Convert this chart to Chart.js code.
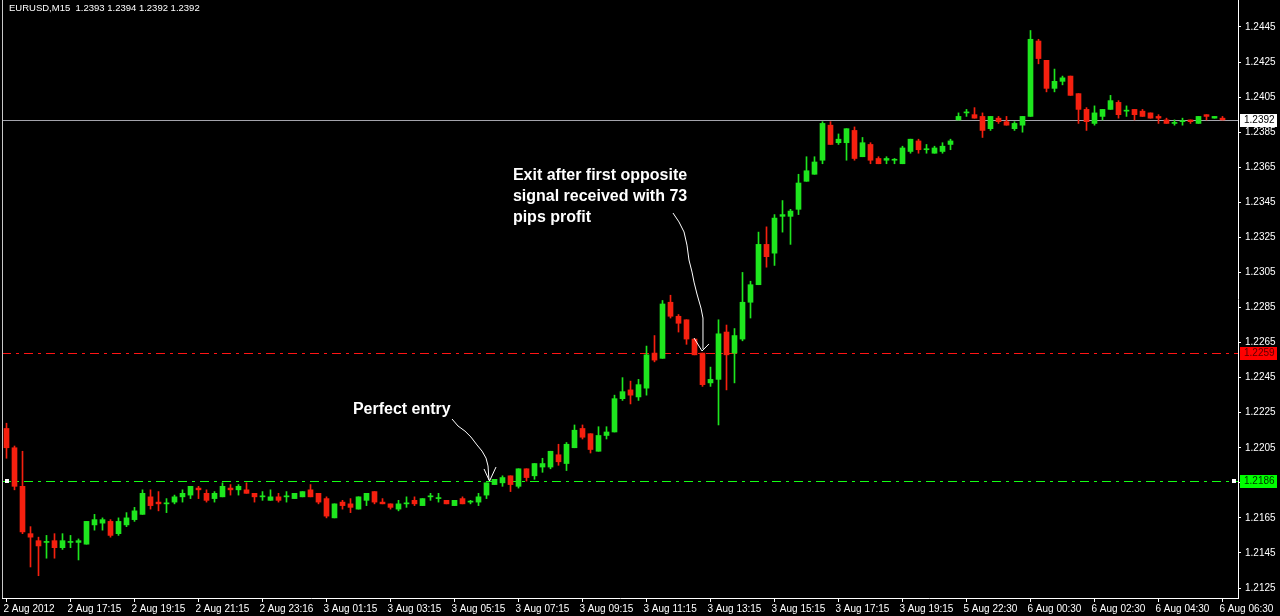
<!DOCTYPE html>
<html>
<head>
<meta charset="utf-8">
<title>EURUSD M15</title>
<script src="https://cdn.jsdelivr.net/npm/chart.js@4.4.1/dist/chart.umd.min.js"></script>
<style>
  html, body { margin: 0; padding: 0; background: #000; }
  #chart { display: block; }
</style>
</head>
<body>
<canvas id="chart" width="1280" height="616"></canvas>
<script>
// M15 bars, oldest first
const opens = [
  1.2216, 1.2205, 1.2183, 1.2156, 1.2152, 1.2151, 1.2152, 1.2148, 1.2151, 1.2151,
  1.2150, 1.2161, 1.2162, 1.2163, 1.2156, 1.2161, 1.2164, 1.2167, 1.2177, 1.2174,
  1.2173, 1.2174, 1.2177, 1.2178, 1.2182, 1.2179, 1.2176, 1.2177, 1.2182, 1.2181,
  1.2181, 1.2179, 1.2177, 1.2175, 1.2177, 1.2177, 1.2176, 1.2177, 1.2181, 1.2179,
  1.2176, 1.2165, 1.2174, 1.2173, 1.2170, 1.2175, 1.2180, 1.2174, 1.2173, 1.2170,
  1.2173, 1.2175, 1.2172, 1.2177, 1.2176, 1.2175, 1.2172, 1.2176, 1.2174, 1.2174,
  1.2178, 1.2184, 1.2185, 1.2189, 1.2183, 1.2193, 1.2189, 1.2194, 1.2194, 1.2201,
  1.2196, 1.2205, 1.2216, 1.2213, 1.2203, 1.2212, 1.2214, 1.2233, 1.2238, 1.2234,
  1.2239, 1.2259, 1.2256, 1.2288, 1.2280, 1.2278, 1.2267, 1.2259, 1.2242, 1.2244,
  1.2271, 1.2259, 1.2267, 1.2288, 1.2298, 1.2321, 1.2316, 1.2337, 1.2337, 1.2341,
  1.2357, 1.2361, 1.2369, 1.2389, 1.2379, 1.2379, 1.2386, 1.2371, 1.2378, 1.2370,
  1.2369, 1.2369, 1.2367, 1.2374, 1.2380, 1.2375, 1.2373, 1.2374, 1.2378, 1.2392,
  1.2396, 1.2395, 1.2394, 1.2387, 1.2393, 1.2391, 1.2387, 1.2389, 1.2394, 1.2437,
  1.2426, 1.2410, 1.2414, 1.2417, 1.2407, 1.2398, 1.2390, 1.2394, 1.2398, 1.2402,
  1.2397, 1.2398, 1.2397, 1.2396, 1.2394, 1.2392, 1.2390, 1.2391, 1.2392, 1.2390,
  1.2395, 1.2393, 1.2393
];
const highs = [
  1.2219, 1.2206, 1.2203, 1.2160, 1.2154, 1.2155, 1.2156, 1.2156, 1.2155, 1.2153,
  1.2163, 1.2167, 1.2165, 1.2164, 1.2165, 1.2168, 1.2171, 1.2181, 1.2181, 1.2180,
  1.2176, 1.2178, 1.2181, 1.2183, 1.2183, 1.2181, 1.2180, 1.2185, 1.2184, 1.2184,
  1.2185, 1.2179, 1.2180, 1.2181, 1.2179, 1.2180, 1.2179, 1.2180, 1.2184, 1.2179,
  1.2177, 1.2173, 1.2175, 1.2176, 1.2177, 1.2179, 1.2180, 1.2176, 1.2173, 1.2175,
  1.2177, 1.2177, 1.2176, 1.2179, 1.2179, 1.2175, 1.2175, 1.2177, 1.2175, 1.2179,
  1.2185, 1.2187, 1.2189, 1.2189, 1.2193, 1.2193, 1.2196, 1.2199, 1.2203, 1.2207,
  1.2208, 1.2218, 1.2218, 1.2213, 1.2217, 1.2217, 1.2235, 1.2245, 1.2243, 1.2244,
  1.2263, 1.2269, 1.2289, 1.2292, 1.2281, 1.2278, 1.2267, 1.2259, 1.2251, 1.2278,
  1.2275, 1.2273, 1.2305, 1.2300, 1.2328, 1.2331, 1.2338, 1.2346, 1.2341, 1.2361,
  1.2371, 1.2371, 1.2391, 1.2391, 1.2384, 1.2387, 1.2388, 1.2382, 1.2379, 1.2371,
  1.2371, 1.2370, 1.2377, 1.2381, 1.2381, 1.2378, 1.2377, 1.2379, 1.2381, 1.2396,
  1.2398, 1.2399, 1.2396, 1.2394, 1.2394, 1.2394, 1.2391, 1.2394, 1.2443, 1.2438,
  1.2426, 1.2421, 1.2417, 1.2417, 1.2407, 1.2399, 1.2400, 1.2398, 1.2406, 1.2403,
  1.2400, 1.2398, 1.2398, 1.2396, 1.2395, 1.2393, 1.2392, 1.2393, 1.2392, 1.2394,
  1.2395, 1.2394, 1.2394
];
const lows = [
  1.2199, 1.2181, 1.2156, 1.2137, 1.2132, 1.2142, 1.2142, 1.2147, 1.2148, 1.2141,
  1.2150, 1.2158, 1.2158, 1.2154, 1.2155, 1.2160, 1.2163, 1.2167, 1.2170, 1.2169,
  1.2168, 1.2173, 1.2174, 1.2176, 1.2176, 1.2174, 1.2174, 1.2177, 1.2178, 1.2178,
  1.2179, 1.2174, 1.2175, 1.2175, 1.2174, 1.2174, 1.2176, 1.2177, 1.2177, 1.2173,
  1.2165, 1.2165, 1.2170, 1.2168, 1.2170, 1.2172, 1.2173, 1.2173, 1.2170, 1.2169,
  1.2171, 1.2172, 1.2172, 1.2175, 1.2174, 1.2173, 1.2172, 1.2173, 1.2173, 1.2172,
  1.2176, 1.2184, 1.2183, 1.2180, 1.2182, 1.2186, 1.2187, 1.2191, 1.2193, 1.2195,
  1.2192, 1.2205, 1.2210, 1.2202, 1.2203, 1.2210, 1.2214, 1.2232, 1.2230, 1.2232,
  1.2235, 1.2254, 1.2256, 1.2279, 1.2271, 1.2264, 1.2258, 1.2240, 1.2240, 1.2218,
  1.2238, 1.2242, 1.2266, 1.2279, 1.2298, 1.2308, 1.2309, 1.2328, 1.2321, 1.2338,
  1.2357, 1.2361, 1.2367, 1.2378, 1.2378, 1.2369, 1.2369, 1.2371, 1.2367, 1.2367,
  1.2367, 1.2367, 1.2367, 1.2373, 1.2373, 1.2373, 1.2373, 1.2373, 1.2375, 1.2392,
  1.2394, 1.2393, 1.2382, 1.2386, 1.2390, 1.2389, 1.2386, 1.2385, 1.2394, 1.2424,
  1.2408, 1.2408, 1.2412, 1.2406, 1.2390, 1.2386, 1.2389, 1.2392, 1.2398, 1.2393,
  1.2394, 1.2392, 1.2394, 1.2393, 1.2390, 1.2390, 1.2389, 1.2389, 1.2390, 1.2390,
  1.2392, 1.2393, 1.2392
];
const closes = [
  1.2205, 1.2183, 1.2157, 1.2154, 1.2149, 1.2151, 1.2148, 1.2152, 1.2151, 1.2152,
  1.2163, 1.2164, 1.2164, 1.2155, 1.2163, 1.2165, 1.2169, 1.2179, 1.2172, 1.2173,
  1.2173, 1.2177, 1.2179, 1.2183, 1.2181, 1.2175, 1.2179, 1.2183, 1.2181, 1.2183,
  1.2179, 1.2177, 1.2177, 1.2177, 1.2175, 1.2177, 1.2179, 1.2180, 1.2177, 1.2174,
  1.2166, 1.2173, 1.2172, 1.2171, 1.2177, 1.2179, 1.2174, 1.2173, 1.2171, 1.2173,
  1.2173, 1.2173, 1.2176, 1.2177, 1.2176, 1.2173, 1.2175, 1.2173, 1.2174, 1.2177,
  1.2185, 1.2187, 1.2188, 1.2184, 1.2193, 1.2188, 1.2196, 1.2196, 1.2203, 1.2197,
  1.2207, 1.2215, 1.2211, 1.2204, 1.2212, 1.2214, 1.2233, 1.2237, 1.2235, 1.2241,
  1.2258, 1.2255, 1.2287, 1.2280, 1.2276, 1.2267, 1.2258, 1.2241, 1.2244, 1.2270,
  1.2258, 1.2269, 1.2288, 1.2298, 1.2321, 1.2314, 1.2336, 1.2338, 1.2340, 1.2356,
  1.2363, 1.2368, 1.2390, 1.2378, 1.2381, 1.2387, 1.2370, 1.2379, 1.2369, 1.2367,
  1.2370, 1.2369, 1.2376, 1.2381, 1.2375, 1.2375, 1.2376, 1.2377, 1.2380, 1.2394,
  1.2396, 1.2393, 1.2386, 1.2394, 1.2391, 1.2389, 1.2390, 1.2394, 1.2438, 1.2427,
  1.2410, 1.2414, 1.2416, 1.2406, 1.2398, 1.2391, 1.2396, 1.2398, 1.2403, 1.2395,
  1.2397, 1.2395, 1.2394, 1.2393, 1.2393, 1.2390, 1.2390, 1.2391, 1.2391, 1.2394,
  1.2394, 1.2394, 1.2392
];

// time axis: one label every 8 bars
const timeLabels = [
  '2 Aug 2012', '2 Aug 17:15', '2 Aug 19:15', '2 Aug 21:15', '2 Aug 23:16',
  '3 Aug 01:15', '3 Aug 03:15', '3 Aug 05:15', '3 Aug 07:15', '3 Aug 09:15',
  '3 Aug 11:15', '3 Aug 13:15', '3 Aug 15:15', '3 Aug 17:15', '3 Aug 19:15',
  '5 Aug 22:30', '6 Aug 00:30', '6 Aug 02:30', '6 Aug 04:30', '6 Aug 06:30'
];
const barsPerLabel = 8;

const priceTicks = [
  1.2125, 1.2145, 1.2165, 1.2185, 1.2205, 1.2225, 1.2245, 1.2265, 1.2285,
  1.2305, 1.2325, 1.2345, 1.2365, 1.2385, 1.2405, 1.2425, 1.2445
];

// horizontal levels
const bidPrice = 1.2392;
const exitLevel = 1.2259;
const entryLevel = 1.2186;

const symbolInfo = 'EURUSD,M15  1.2393 1.2394 1.2392 1.2392';

// notes, anchored at [bar index, price]
const entryNote = ['Perfect entry'];
const entryNoteAt = [43.3, 1.22265];
const exitNote = ['Exit after first opposite', 'signal received with 73', 'pips profit'];
const exitNoteAt = [63.3, 1.23605];

const entryArrow = [
  [55.69, 1.22214], [56.44, 1.22174], [57.31, 1.22145], [58.06, 1.22111], [58.81, 1.22066],
  [59.44, 1.22031], [59.94, 1.21991], [60.19, 1.21946], [60.31, 1.21866]
];
const entryHead = [[59.69, 1.21929], [60.38, 1.2186], [61.19, 1.2194]];
const exitArrow = [
  [83.31, 1.23389], [84.06, 1.23338], [84.69, 1.23281], [85.06, 1.23206], [85.31, 1.23121],
  [85.69, 1.23052], [85.94, 1.22995], [86.31, 1.22927], [86.81, 1.22847], [87.06, 1.2279],
  [87.06, 1.22613]
];
const exitHead = [[85.94, 1.22676], [86.94, 1.22602], [87.81, 1.22642]];

const upColor = '#1ee61e';
const downColor = '#f5200f';
const barColors = closes.map((c, i) => c >= opens[i] ? upColor : downColor);

const axisFont = "'Liberation Sans', Arial, sans-serif";
Chart.defaults.font.family = axisFont;
Chart.defaults.font.size = 10;
Chart.defaults.color = '#ffffff';

const overlay = {
  id: 'overlay',
  beforeDatasetsDraw(chart) {
    const {ctx, chartArea: a, scales: {y}} = chart;
    ctx.save();
    ctx.lineWidth = 1;

    // bid line
    let py = Math.round(y.getPixelForValue(bidPrice)) + 0.5;
    ctx.strokeStyle = '#a4a4ac';
    ctx.beginPath(); ctx.moveTo(a.left, py); ctx.lineTo(a.right, py); ctx.stroke();

    // exit / entry levels, dash-dot
    ctx.setLineDash([9, 5, 3, 5]);
    py = Math.round(y.getPixelForValue(exitLevel)) + 0.5;
    ctx.strokeStyle = '#ff1414';
    ctx.beginPath(); ctx.moveTo(a.left, py); ctx.lineTo(a.right, py); ctx.stroke();
    py = Math.round(y.getPixelForValue(entryLevel)) + 0.5;
    ctx.strokeStyle = '#14ff14';
    ctx.beginPath(); ctx.moveTo(a.left, py); ctx.lineTo(a.right, py); ctx.stroke();
    ctx.setLineDash([]);

    // selection handles on the entry line
    ctx.fillStyle = '#ffffff';
    ctx.fillRect(a.left + 3, py - 2.5, 4, 4);
    ctx.fillRect(a.right - 6, py - 2.5, 4, 4);
    ctx.restore();
  },
  afterDraw(chart) {
    const {ctx, chartArea: a, scales: {x, y}} = chart;
    ctx.save();

    // left frame
    ctx.strokeStyle = '#c8c8c8';
    ctx.beginPath(); ctx.moveTo(a.left + 0.5, 0); ctx.lineTo(a.left + 0.5, a.bottom); ctx.stroke();

    // price boxes on the axis
    const box = (v, bg, fg) => {
      const py = Math.round(y.getPixelForValue(v));
      ctx.fillStyle = bg;
      ctx.fillRect(a.right + 2, py - 6, 37, 13);
      ctx.fillStyle = fg;
      ctx.font = '10px ' + axisFont;
      ctx.textBaseline = 'middle';
      ctx.textAlign = 'left';
      ctx.fillText(v.toFixed(4), a.right + 6, py + 0.5);
    };
    box(bidPrice, '#ffffff', '#000000');
    box(exitLevel, '#ff0000', '#5a0000');
    box(entryLevel, '#00ff00', '#003000');

    // symbol line
    ctx.fillStyle = '#ffffff';
    ctx.font = '9.5px ' + axisFont;
    ctx.textBaseline = 'middle';
    ctx.fillText(symbolInfo, 9, 8);

    // notes
    ctx.font = "bold 16px 'Liberation Sans', Arial, sans-serif";
    const note = (lines, at) => {
      const px = x.getPixelForValue(at[0]);
      const py = y.getPixelForValue(at[1]);
      lines.forEach((t, k) => ctx.fillText(t, px, py + k * 21));
    };
    note(entryNote, entryNoteAt);
    note(exitNote, exitNoteAt);

    // hand-drawn arrows
    ctx.strokeStyle = '#ffffff';
    ctx.lineWidth = 1;
    const path = pts => {
      ctx.beginPath();
      pts.forEach((p, k) => {
        const px = x.getPixelForValue(p[0]);
        const py = y.getPixelForValue(p[1]);
        if (k === 0) ctx.moveTo(px, py); else ctx.lineTo(px, py);
      });
      ctx.stroke();
    };
    path(entryArrow); path(entryHead);
    path(exitArrow); path(exitHead);
    ctx.restore();
  }
};

new Chart(document.getElementById('chart'), {
  type: 'bar',
  data: {
    datasets: [
      {
        label: 'body',
        data: opens.map((o, i) => ({x: i, y: [o, closes[i]]})),
        backgroundColor: barColors,
        barThickness: 5,
        minBarLength: 1,
        grouped: false
      },
      {
        label: 'wick',
        data: lows.map((l, i) => ({x: i, y: [l, highs[i]]})),
        backgroundColor: barColors,
        barThickness: 1,
        minBarLength: 1,
        grouped: false
      }
    ]
  },
  options: {
    responsive: false,
    animation: false,
    events: [],
    layout: { padding: { left: 2, top: 0, right: 0, bottom: 0 }, autoPadding: false },
    plugins: { legend: { display: false }, tooltip: { enabled: false } },
    scales: {
      x: {
        type: 'linear',
        offset: false,
        min: -0.5625,
        max: 153.9375,
        bounds: 'data',
        grid: { display: true, drawOnChartArea: false, drawTicks: true, tickLength: 4, color: '#ffffff', offset: false },
        border: { color: '#ffffff', width: 1 },
        ticks: { color: '#ffffff', align: 'start', padding: 1, labelOffset: -3, maxRotation: 0, minRotation: 0, autoSkip: false,
          callback: (v) => timeLabels[Math.round(v / barsPerLabel)] },
        afterBuildTicks: s => { s.ticks = timeLabels.map((t, k) => ({ value: k * barsPerLabel })); },
        afterFit: s => { s.height = 18; s.paddingLeft = 0; s.paddingRight = 0; }
      },
      y: {
        position: 'right',
        min: 1.21193,
        max: 1.24604,
        beginAtZero: false,
        bounds: 'data',
        grid: { display: true, drawOnChartArea: false, drawTicks: true, tickLength: 3, color: '#ffffff' },
        border: { color: '#ffffff', width: 1 },
        ticks: { color: '#ffffff', padding: 4, callback: v => v.toFixed(4) },
        afterBuildTicks: s => { s.ticks = priceTicks.map(v => ({ value: v })); },
        afterFit: s => { s.width = 42; s.paddingTop = 0; s.paddingBottom = 0; }
      }
    }
  },
  plugins: [overlay]
});
</script>
</body>
</html>
